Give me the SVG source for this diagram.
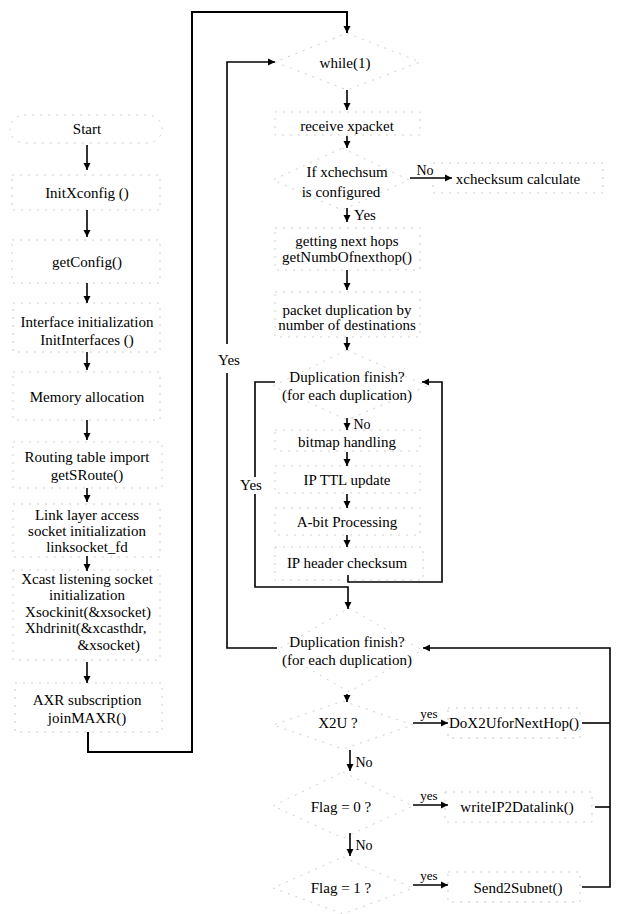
<svg xmlns="http://www.w3.org/2000/svg" width="621" height="914" viewBox="0 0 621 914">
<defs>
<marker id="ah" markerWidth="7" markerHeight="8" refX="7" refY="4" orient="auto" markerUnits="userSpaceOnUse">
<path d="M0,0.5 L7,4 L0,7.5 z" fill="#000"/>
</marker>
<style>
text{font-family:"Liberation Serif","Times New Roman",serif;font-size:15px;fill:#000;text-anchor:middle;dominant-baseline:central}
.lbl{font-size:14px}
.sm{font-size:13px}
.nb{fill:none;stroke:#cfcfcf;stroke-width:1;stroke-dasharray:2 6}
.c{fill:none;stroke:#000;stroke-width:1.6}
.a{fill:none;stroke:#000;stroke-width:1.6;marker-end:url(#ah)}
</style>
</defs>
<rect width="621" height="914" fill="#fff"/>

<!-- left column nodes -->
<g id="start"><rect class="nb" x="10" y="115" width="152" height="28" rx="14"/><text x="87" y="129">Start</text></g>
<g id="initxconfig"><rect class="nb" x="12" y="175" width="148" height="35"/><text x="87" y="193">InitXconfig ()</text></g>
<g id="getconfig"><rect class="nb" x="12" y="240" width="148" height="43"/><text x="87" y="262">getConfig()</text></g>
<g id="initinterfaces"><rect class="nb" x="13" y="303" width="147" height="49"/><text x="87" y="322">Interface initialization</text><text x="87" y="340">InitInterfaces ()</text></g>
<g id="memory"><rect class="nb" x="13" y="372" width="147" height="48"/><text x="87" y="397">Memory allocation</text></g>
<g id="routing"><rect class="nb" x="13" y="442" width="149" height="46"/><text x="87" y="457">Routing table import</text><text x="87" y="475">getSRoute()</text></g>
<g id="linklayer"><rect class="nb" x="13" y="504" width="147" height="53"/><text x="87" y="515">Link layer access</text><text x="87" y="531">socket initialization</text><text x="87" y="547">linksocket_fd</text></g>
<g id="xcast"><rect class="nb" x="13" y="570" width="147" height="90"/><text x="87" y="579">Xcast listening socket</text><text x="87" y="595">initialization</text><text x="88" y="612">Xsockinit(&amp;xsocket)</text><text x="25" y="628" style="text-anchor:start">Xhdrinit(&amp;xcasthdr,</text><text x="140" y="645" style="text-anchor:end">&amp;xsocket)</text></g>
<g id="axr"><rect class="nb" x="15" y="683" width="147" height="49"/><text x="87" y="700">AXR subscription</text><text x="87" y="718">joinMAXR()</text></g>

<!-- main column nodes -->
<g id="while"><polygon class="nb" points="347,33 420,62 347,90 275,62"/><text x="345" y="63">while(1)</text></g>
<g id="receive"><rect class="nb" x="275" y="112" width="145" height="23"/><text x="347" y="126">receive xpacket</text></g>
<g id="ifcheck"><polygon class="nb" points="342,148 409,180 342,210 273,180"/><text x="347" y="172">If  xchechsum</text><text x="341" y="192">is configured</text></g>
<g id="xcalc"><rect class="nb" x="433" y="163" width="170" height="30"/><text x="518" y="179">xchecksum calculate</text></g>
<g id="nexthops"><rect class="nb" x="275" y="228" width="145" height="42"/><text x="347" y="241">getting next hops</text><text x="347" y="257">getNumbOfnexthop()</text></g>
<g id="dup"><rect class="nb" x="275" y="292" width="145" height="45"/><text x="347" y="310">packet duplication by</text><text x="347" y="325">number of destinations</text></g>
<g id="dupfinish1"><polygon class="nb" points="347,350 427,386 347,420 273,386"/><text x="347" y="377">Duplication finish?</text><text x="347" y="395">(for each duplication)</text></g>
<g id="bitmap"><rect class="nb" x="275" y="430" width="145" height="21"/><text x="347" y="442">bitmap handling</text></g>
<g id="ttl"><rect class="nb" x="275" y="466" width="145" height="27"/><text x="347" y="480">IP TTL update</text></g>
<g id="abit"><rect class="nb" x="275" y="508" width="145" height="27"/><text x="347" y="522">A-bit Processing</text></g>
<g id="ipchk"><rect class="nb" x="275" y="547" width="148" height="33"/><text x="347" y="563">IP header checksum</text></g>
<g id="dupfinish2"><polygon class="nb" points="349,608 422,650 349,692 277,650"/><text x="347" y="642">Duplication finish?</text><text x="347" y="660">(for each duplication)</text></g>
<g id="x2u"><polygon class="nb" points="343,701 413,725 343,749 273,725"/><text x="338" y="723">X2U ?</text></g>
<g id="dox2u"><rect class="nb" x="448" y="708" width="132" height="30"/><text x="514" y="723">DoX2UforNextHop()</text></g>
<g id="flag0"><polygon class="nb" points="343,772 413,806 343,838 273,806"/><text x="341" y="807">Flag = 0 ?</text></g>
<g id="write"><rect class="nb" x="445" y="792" width="147" height="30"/><text x="517" y="807">writeIP2Datalink()</text></g>
<g id="flag1"><polygon class="nb" points="343,857 413,888 343,914 273,888"/><text x="341" y="888">Flag = 1 ?</text></g>
<g id="send"><rect class="nb" x="448" y="872" width="132" height="30"/><text x="518" y="888">Send2Subnet()</text></g>

<!-- connectors -->
<g id="connectors">
<path class="a" d="M87,145 V170"/>
<path class="a" d="M87,210 V237"/>
<path class="a" d="M87,283 V303"/>
<path class="a" d="M87,352 V370"/>
<path class="a" d="M87,420 V440"/>
<path class="a" d="M87,488 V502"/>
<path class="a" d="M87,556 V571"/>
<path class="a" d="M87,662 V683"/>
<path class="a" style="stroke-width:2" d="M88,732 V752 H192 V12 H347 V33"/>
<path class="a" d="M347,90 V110"/>
<path class="a" d="M347,136 V148"/>
<path class="a" d="M410,178 H452"/>
<text class="lbl" x="425" y="170">No</text>
<path class="a" d="M347,208 V222"/>
<text x="365" y="215">Yes</text>
<path class="a" d="M347,270 V290"/>
<path class="a" d="M347,337 V350"/>
<path class="a" d="M347,418 V430"/>
<text class="lbl" x="362" y="424">No</text>
<path class="a" d="M347,452 V466"/>
<path class="a" d="M347,494 V508"/>
<path class="a" d="M347,535 V547"/>
<path class="a" d="M348,575 V582 H442 V382 H422"/>
<path class="c" d="M275,382 H255 V477"/>
<text x="251" y="485">Yes</text>
<path class="a" d="M255,494 V587 H348 V609"/>
<path class="c" d="M277,648 H227 V373"/>
<text x="229" y="360">Yes</text>
<path class="a" d="M227,344 V62 H275"/>
<path class="a" d="M347,694 V702"/>
<path class="a" d="M413,723 H448"/>
<text class="sm" x="429" y="713">yes</text>
<path class="a" d="M350,750 V771"/>
<text class="lbl" x="364" y="762">No</text>
<path class="a" d="M413,805 H448"/>
<text class="sm" x="429" y="795">yes</text>
<path class="a" d="M350,833 V856"/>
<text class="lbl" x="364" y="845">No</text>
<path class="a" d="M413,885 H448"/>
<text class="sm" x="429" y="875">yes</text>
<path class="c" d="M582,723 H610"/>
<path class="c" d="M595,807 H610"/>
<path class="a" d="M582,887 H610 V648 H423"/>
</g>
</svg>
